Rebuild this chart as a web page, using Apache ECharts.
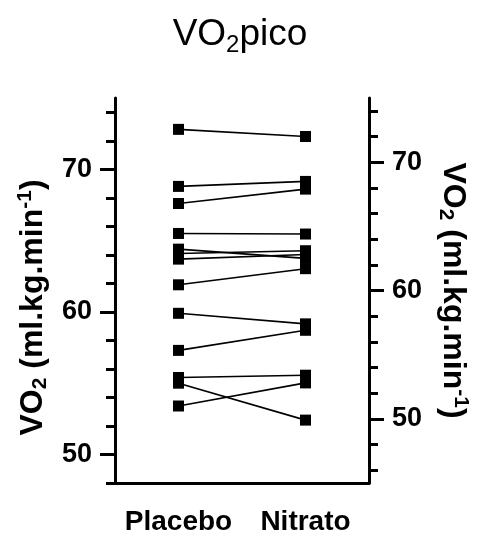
<!DOCTYPE html>
<html>
<head>
<meta charset="utf-8">
<script src="https://cdn.jsdelivr.net/npm/echarts@6/dist/echarts.min.js"></script>
<style>
  html, body { margin: 0; padding: 0; background: #fff; }
  #chart { width: 480px; height: 533px; }
</style>
</head>
<body>
<div id="chart"></div>
<script>
// groups on the x axis
var groups = ['Placebo', 'Nitrato'];
// one value per subject, same order in both arrays (pairs)
var placebo = [72.8, 68.8, 67.6, 65.5, 64.4, 64.1, 63.7, 61.9, 59.9, 57.3, 55.4, 55.0, 53.4];
var nitrato = [72.0, 68.5, 67.9, 64.4, 62.5, 63.1, 62.8, 61.7, 57.4, 56.9, 53.4, 49.9, 52.8];

// left axis (placebo) and right axis (nitrato)
var leftMin = 48, leftMax = 75;
var rightMin = 45, rightMax = 75;
var leftLabels = [50, 60, 70];
var leftMinor = [48, 50, 52, 54, 56, 58, 60, 62, 64, 66, 68, 70, 72, 74];
var rightLabels = [50, 60, 70];
var rightMinor = [46, 48, 50, 52, 54, 56, 58, 60, 62, 64, 66, 68, 70, 72, 74];

var FONT = "'Liberation Sans', Arial, sans-serif";

var dom = document.getElementById('chart');
var myChart = echarts.init(dom);

var axisName = '{b|VO}{s|2}{b| (ml.kg.min}{p|-1}{b|)}';
var nameRich = {
    b: { fontFamily: FONT, fontWeight: 'bold', fontSize: 32, color: '#000', lineHeight: 36 },
    s: { fontFamily: FONT, fontWeight: 'bold', fontSize: 21, color: '#000', lineHeight: 16, verticalAlign: 'bottom' },
    p: { fontFamily: FONT, fontWeight: 'bold', fontSize: 21, color: '#000', lineHeight: 21, verticalAlign: 'top' }
};

function mainY(pos, min, max, labels, rotate, gap, namePad) {
    return {
        type: 'value',
        position: pos,
        min: min,
        max: max,
        splitLine: { show: false },
        axisLine: { show: true, onZero: false, lineStyle: { color: '#000', width: 3 } },
        axisTick: { show: true, customValues: labels, length: 15, lineStyle: { color: '#000', width: 3 } },
        axisLabel: {
            customValues: labels, margin: 23,
            color: '#000', fontFamily: FONT, fontWeight: 'bold', fontSize: 27
        },
        name: axisName,
        nameLocation: 'middle',
        nameRotate: rotate,
        nameGap: gap,
        nameTextStyle: { rich: nameRich, padding: namePad }
    };
}

function minorY(pos, min, max, ticks) {
    return {
        type: 'value',
        position: pos,
        min: min,
        max: max,
        splitLine: { show: false },
        axisLine: { show: false },
        axisTick: { show: true, customValues: ticks, length: 9, lineStyle: { color: '#000', width: 3 } },
        axisLabel: { show: false }
    };
}

var option = {
    animation: false,
    backgroundColor: '#fff',
    title: {
        text: '{a|VO}{s|2}{a|pico}',
        left: 'center',
        top: 8,
        textStyle: {
            fontWeight: 'normal',
            rich: {
                a: { fontFamily: FONT, fontWeight: 'normal', fontSize: 37, color: '#000', lineHeight: 44 },
                s: { fontFamily: FONT, fontWeight: 'normal', fontSize: 24, color: '#000', lineHeight: 18, verticalAlign: 'bottom' }
            }
        }
    },
    grid: { left: 115, right: 111, top: 98, bottom: 50, outerBoundsMode: 'none' },
    xAxis: {
        type: 'category',
        data: groups,
        boundaryGap: true,
        axisLine: { onZero: false, lineStyle: { color: '#000', width: 3 } },
        axisTick: { alignWithLabel: true, length: 15, lineStyle: { color: '#000', width: 3 } },
        axisLabel: { interval: 0, margin: 25, color: '#000', fontFamily: FONT, fontWeight: 'bold', fontSize: 28 }
    },
    yAxis: [
        mainY('left', leftMin, leftMax, leftLabels, 90, 62, [0, 34, 0, 0]),
        mainY('right', rightMin, rightMax, rightLabels, -90, 66, 0),
        minorY('left', leftMin, leftMax, leftMinor),
        minorY('right', rightMin, rightMax, rightMinor)
    ],
    series: [
        {
            // connecting line for each subject: left end on the left axis,
            // right end on the right axis (mapped through the right axis range)
            type: 'custom',
            xAxisIndex: 0,
            yAxisIndex: 0,
            encode: { x: 0, y: 1 },
            data: placebo.map(function (v, i) { return [0, v, nitrato[i]]; }),
            renderItem: function (params, api) {
                var p0 = api.coord([0, api.value(1)]);
                var x1 = api.coord([1, api.value(1)])[0];
                var rect = params.coordSys;
                var y1 = rect.y + (rightMax - api.value(2)) / (rightMax - rightMin) * rect.height;
                return {
                    type: 'line',
                    shape: { x1: p0[0], y1: p0[1], x2: x1, y2: y1 },
                    style: { stroke: '#000', lineWidth: 1.6 }
                };
            },
            z: 1
        },
        {
            name: 'Placebo',
            type: 'scatter',
            xAxisIndex: 0,
            yAxisIndex: 0,
            symbol: 'rect',
            symbolSize: 11,
            itemStyle: { color: '#000', opacity: 1 },
            data: placebo.map(function (v) { return [groups[0], v]; }),
            z: 3
        },
        {
            name: 'Nitrato',
            type: 'scatter',
            xAxisIndex: 0,
            yAxisIndex: 1,
            symbol: 'rect',
            symbolSize: 11,
            itemStyle: { color: '#000', opacity: 1 },
            data: nitrato.map(function (v) { return [groups[1], v]; }),
            z: 3
        }
    ]
};

if (option && typeof option === 'object') {
    myChart.setOption(option, true);
}
</script>
</body>
</html>
